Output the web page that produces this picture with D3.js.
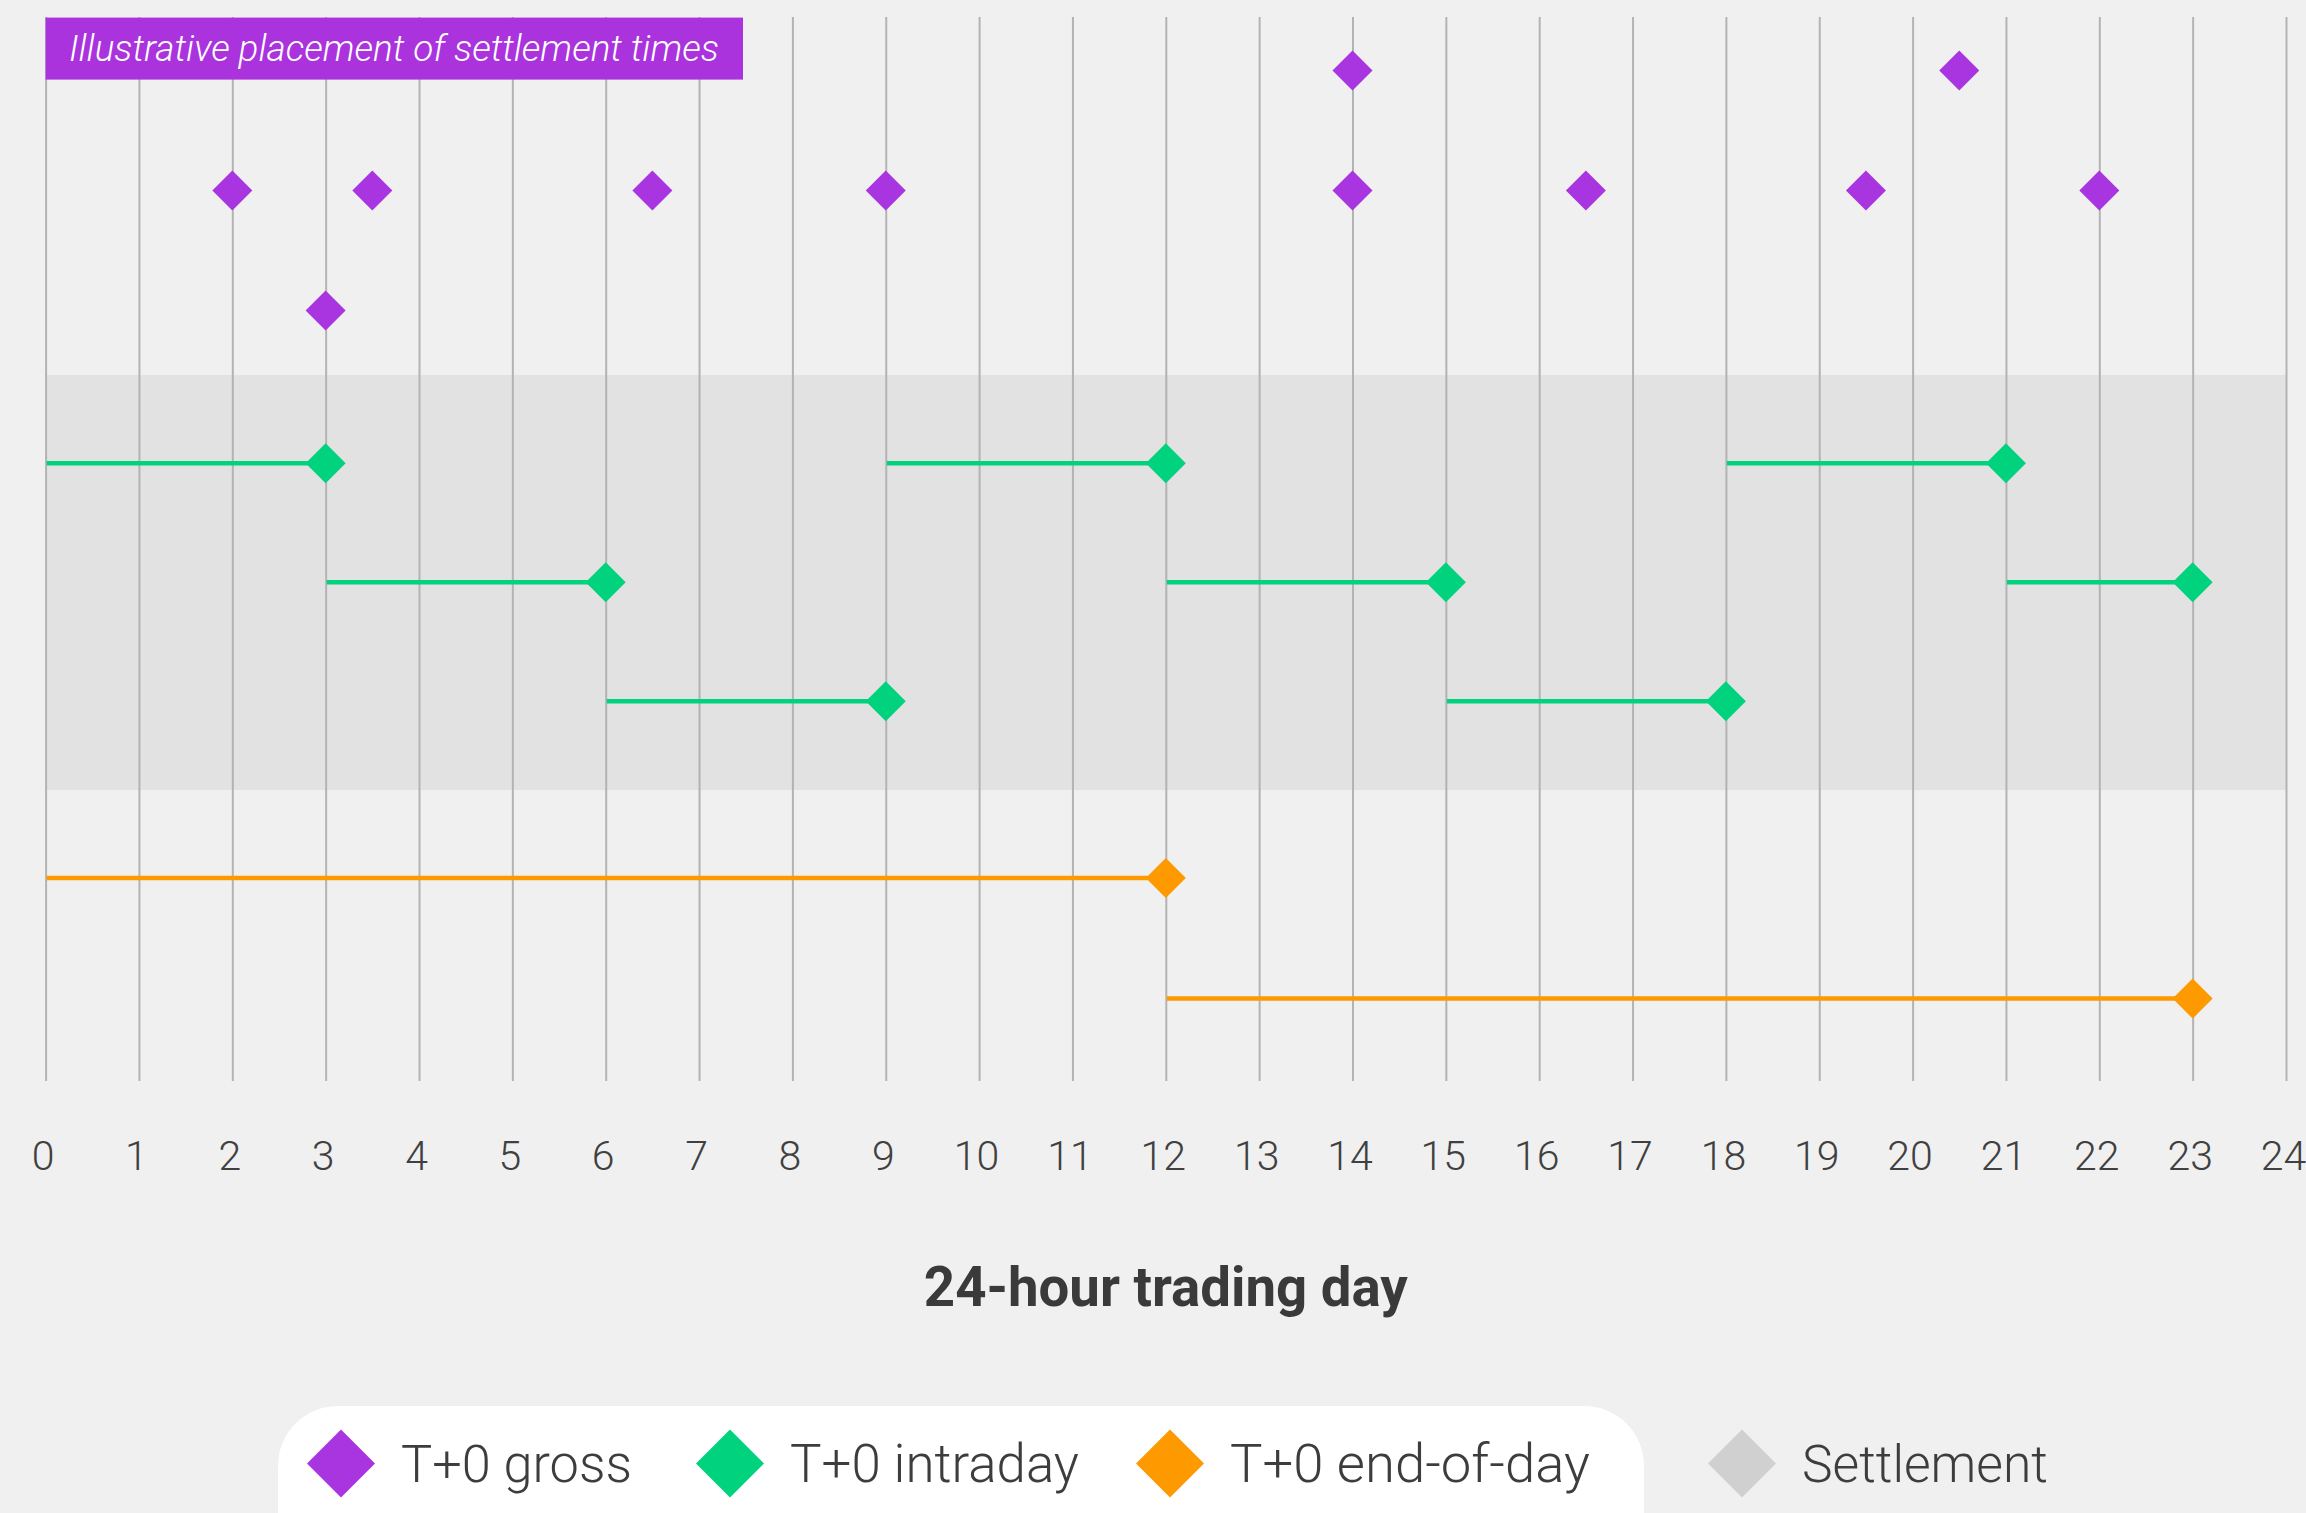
<!DOCTYPE html>
<html>
<head>
<meta charset="utf-8">
<script src="https://cdn.jsdelivr.net/npm/d3@7"></script>
<style>
  html, body { margin: 0; padding: 0; background: #f0f0f0; overflow: hidden; }
  svg { display: block; font-family: Roboto, "Liberation Sans", Arial, sans-serif; }
</style>
</head>
<body>
<svg id="chart" width="2306" height="1513"></svg>
<script>
  // hours of the trading day (tick labels)
  const hours = d3.range(0, 25);

  // T+0 gross: settlement points per row
  const grossRows = [
    [14, 20.5],
    [2, 3.5, 6.5, 9, 14, 16.5, 19.5, 22],
    [3]
  ];

  // T+0 intraday: [start, settlement] windows per row
  const intradayRows = [
    [[0, 3], [9, 12], [18, 21]],
    [[3, 6], [12, 15], [21, 23]],
    [[6, 9], [15, 18]]
  ];

  // T+0 end-of-day: [start, settlement] windows per row
  const eodRows = [
    [[0, 12]],
    [[12, 23]]
  ];

  const legendLabels = ['T+0 gross', 'T+0 intraday', 'T+0 end-of-day', 'Settlement'];
  const legendColors = ['#a935e0', '#00d27e', '#ff9900', '#d0d0d0'];

  const boxLabel = 'Illustrative placement of settlement times';
  const axisTitle = '24-hour trading day';

  let svg = d3.select('#chart');
  let W = 2306;
  let gridTop = 17;
  let gridBottom = 1081;
  let rowStep = 120;

  let x = d3.scaleLinear().domain([0, 24]).range([45.6, 2286]);

  // first row position for each group
  let yGross = i => 70.6 + i * rowStep;
  let yIntra = i => 463.3 + i * 119;
  let yEod = i => 878 + i * 120.6;

  let diamond = d3.symbol().type(d3.symbolSquare).size(800);
  let bigDiamond = d3.symbol().type(d3.symbolSquare).size(2310);

  let fitText = (sel, target) => {
    let size = parseFloat(sel.attr('font-size'));
    let w = sel.node().getComputedTextLength();
    if (w > 0) {
      sel.attr('font-size', size * target / w);
    }
    return parseFloat(sel.attr('font-size'));
  };

  // background
  svg.append('rect').attr('width', W).attr('height', 1513).attr('fill', '#f0f0f0');

  // shaded band behind intraday rows
  svg.append('rect')
    .attr('x', x(0))
    .attr('width', x(24) - x(0))
    .attr('y', 375)
    .attr('height', 790 - 375)
    .attr('fill', '#e2e2e2');

  // vertical gridlines
  let grid = svg.append('g')
    .attr('transform', `translate(0,${gridBottom})`)
    .call(d3.axisBottom(x).tickValues(hours).tickSize(-(gridBottom - gridTop)).tickFormat(''));
  grid.select('.domain').remove();
  grid.selectAll('.tick line').attr('stroke', '#b3b3b3').attr('stroke-width', 2);

  // tick labels
  let axis = svg.append('g')
    .attr('transform', `translate(0,${gridBottom})`)
    .call(d3.axisBottom(x).tickValues(hours).tickSize(0).tickFormat(d3.format('d')));
  axis.select('.domain').remove();
  axis.selectAll('.tick text')
    .attr('y', 89)
    .attr('dy', 0)
    .attr('dx', -3)
    .attr('font-family', 'Roboto, "Liberation Sans", Arial, sans-serif')
    .attr('font-weight', 300)
    .attr('font-size', 41)
    .attr('fill', '#404040');

  // axis title
  let title = svg.append('text')
    .attr('x', x(12))
    .attr('y', 1306)
    .attr('text-anchor', 'middle')
    .attr('font-weight', 'bold')
    .attr('font-size', 50)
    .attr('fill', '#3a3a3a')
    .text(axisTitle);
  fitText(title, 484);

  // label box
  svg.append('rect')
    .attr('x', x(0))
    .attr('y', 17.6)
    .attr('width', 743 - x(0))
    .attr('height', 62)
    .attr('fill', '#aa33dd');
  let boxText = svg.append('text')
    .attr('x', 69)
    .attr('y', 61)
    .attr('font-style', 'italic')
    .attr('font-weight', 300)
    .attr('font-size', 36)
    .attr('fill', '#ffffff')
    .text(boxLabel);
  fitText(boxText, 650);

  // windows (lines) for intraday and end-of-day
  let drawWindows = (rows, yFn, color) => {
    let g = svg.append('g');
    rows.forEach((row, i) => {
      g.selectAll(null)
        .data(row)
        .enter()
        .append('line')
        .attr('x1', d => x(d[0]) + 1)
        .attr('x2', d => x(d[1]))
        .attr('y1', yFn(i))
        .attr('y2', yFn(i))
        .attr('stroke', color)
        .attr('stroke-width', 4.5);
      g.selectAll(null)
        .data(row)
        .enter()
        .append('path')
        .attr('d', diamond)
        .attr('transform', d => `translate(${x(d[1])},${yFn(i)}) rotate(45)`)
        .attr('fill', color);
    });
  };

  drawWindows(intradayRows, yIntra, legendColors[1]);
  drawWindows(eodRows, yEod, legendColors[2]);

  // gross settlement points
  let gGross = svg.append('g');
  grossRows.forEach((row, i) => {
    gGross.selectAll(null)
      .data(row)
      .enter()
      .append('path')
      .attr('d', diamond)
      .attr('transform', d => `translate(${x(d)},${yGross(i)}) rotate(45)`)
      .attr('fill', legendColors[0]);
  });

  // legend
  let legend = svg.append('g');
  legend.append('rect')
    .attr('x', 278)
    .attr('y', 1406)
    .attr('width', 1644 - 278)
    .attr('height', 200)
    .attr('rx', 60)
    .attr('ry', 60)
    .attr('fill', '#ffffff');

  let legendX = [341, 730, 1170, 1742];
  let legendW = [231, 289, 360, 246];
  let legendY = 1463.5;
  let items = legend.selectAll('g.item')
    .data(legendLabels)
    .enter()
    .append('g')
    .attr('class', 'item')
    .attr('transform', (d, i) => `translate(${legendX[i]},${legendY})`);
  items.append('path')
    .attr('d', bigDiamond)
    .attr('transform', 'rotate(45)')
    .attr('fill', (d, i) => legendColors[i]);
  items.append('text')
    .attr('x', 60)
    .attr('y', 18)
    .attr('font-weight', 300)
    .attr('font-size', 52)
    .attr('fill', '#3d3d3d')
    .text(d => d)
    .each(function(d, i) {
      fitText(d3.select(this), legendW[i]);
    });
</script>
</body>
</html>
